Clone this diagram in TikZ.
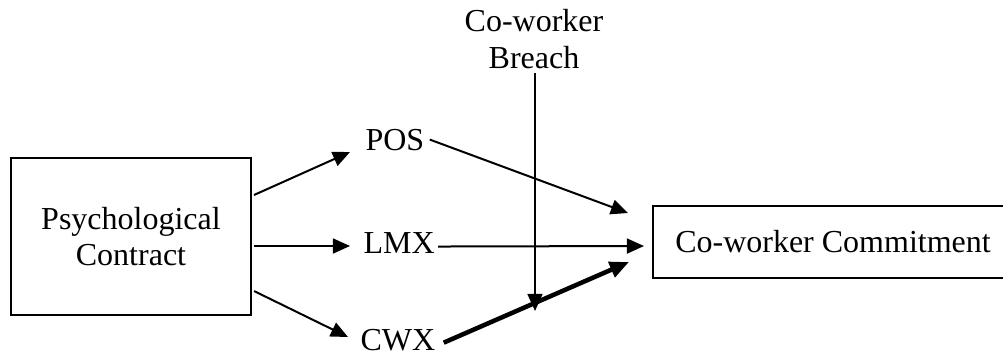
\documentclass[tikz,border=0pt]{standalone}
\usepackage{fontspec}
\setmainfont{Liberation Serif}
\usetikzlibrary{arrows.meta,calc}

\begin{document}
\begin{tikzpicture}[
  x=0.375pt,
  y=-0.375pt,
  txt/.style={font=\fontsize{12}{13.8}\selectfont, inner sep=0pt},
  box/.style={txt, draw, line width=0.75pt, align=center},
  arr/.style={-{Triangle[length=6.4pt,width=5.6pt]}, line width=0.75pt},
  thickarr/.style={-{Triangle[length=7.2pt,width=6pt]}, line width=1.7pt}
]
\useasboundingbox (0,0) rectangle (1003,355);
\clip (0,0) rectangle (1003,355);

% boxes
\node[box, minimum width=90pt, minimum height=58.9pt] (psych) at (131,236.5) {Psychological\\Contract};
\node[box, minimum width=135pt, minimum height=27pt] (comm) at (833,242) {Co-worker Commitment};

% mediators and moderator
\node[txt, anchor=base west] (pos) at (365,150) {POS};
\node[txt, anchor=base west] (lmx) at (363,253) {LMX};
\node[txt, anchor=base west] (cwx) at (360,350) {CWX};
\node[txt, align=center, anchor=north] (brch) at (534,9) {Co-worker\\Breach};
\coordinate (mod) at (535,311);

% paths from the contract
\draw[arr] ($(psych.east)+(2,-41.5)$) -- ($(pos.base west)+(-15,2)$);
\draw[arr] ($(psych.east)+(2,9.5)$) -- ($(lmx.base west)+(-13,-7)$);
\draw[arr] ($(psych.east)+(2,54.5)$) -- ($(cwx.base west)+(-12,-13)$);

% paths to commitment
\draw[arr] ($(pos.east)+(5,0)$) -- ($(comm.west)+(-24,-29)$);
\draw[arr] ($(lmx.east)+(3,4)$) -- ($(comm.west)+(-8,4)$);
\draw[thickarr] ($(cwx.east)+(8,3)$) -- ($(comm.west)+(-23,20)$);

% moderation
\draw[arr] ($(brch.south)+(1,4)$) -- (mod);
\end{tikzpicture}
\end{document}
